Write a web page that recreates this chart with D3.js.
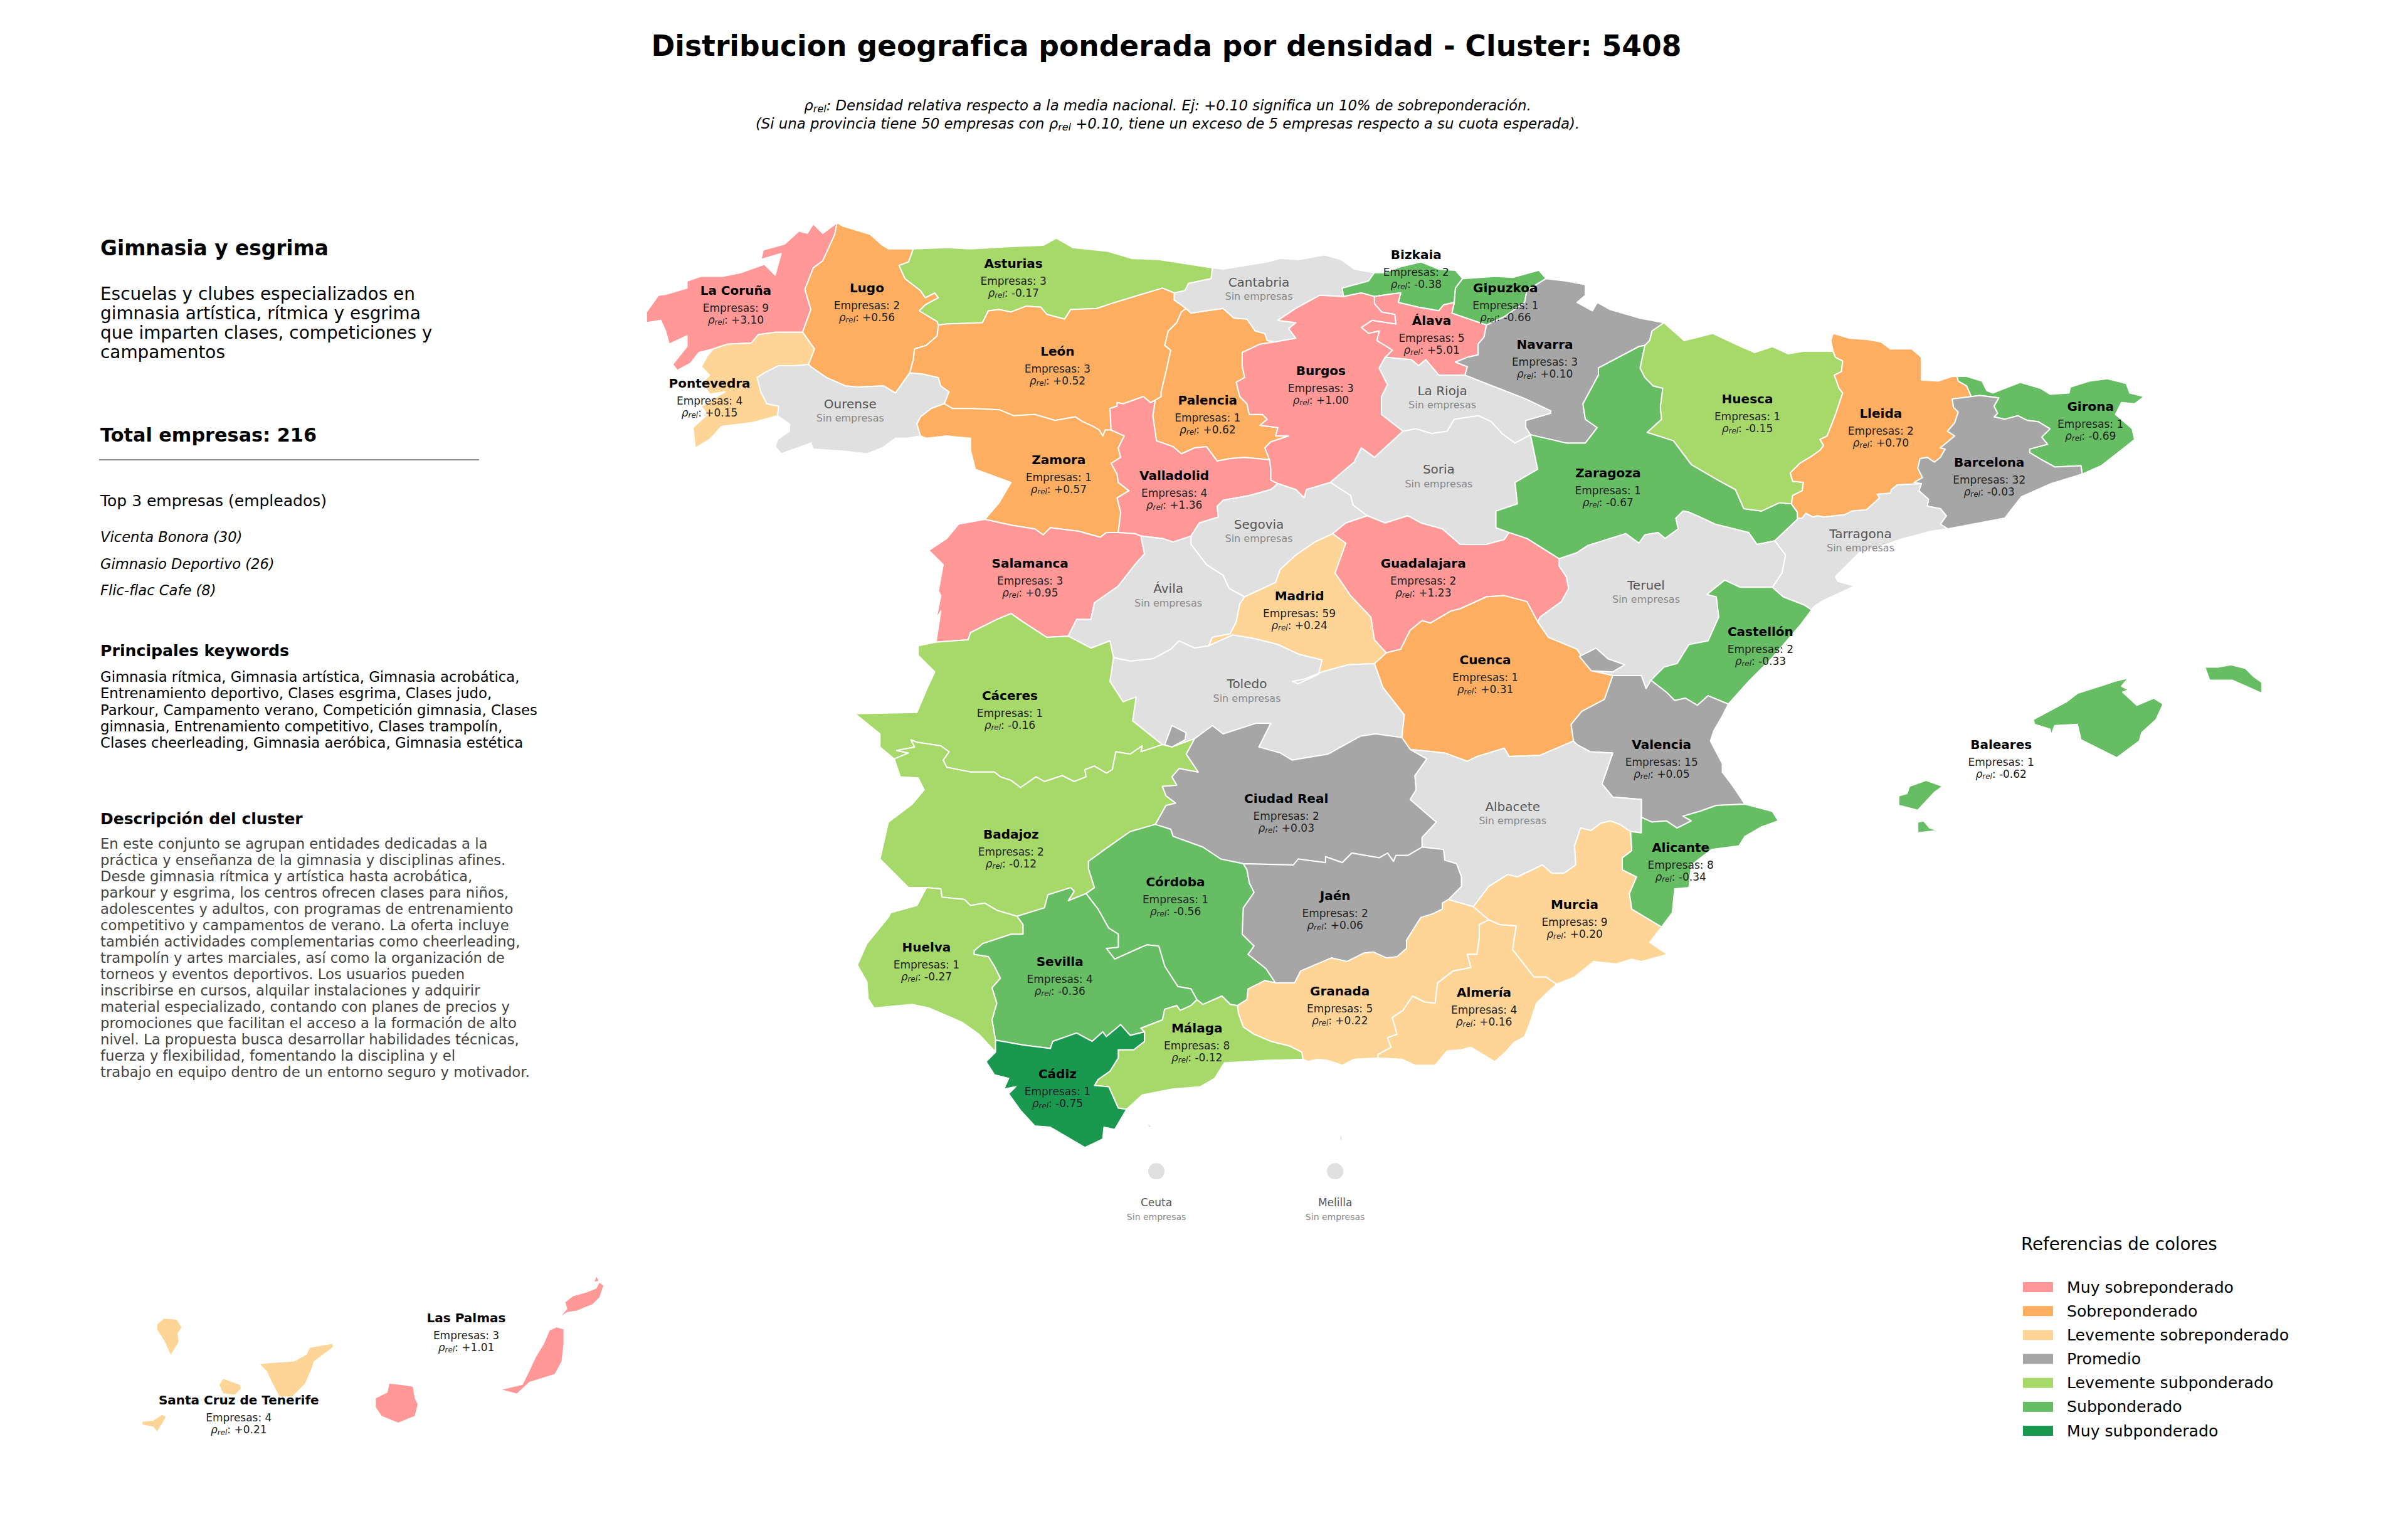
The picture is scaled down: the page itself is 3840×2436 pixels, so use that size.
<!DOCTYPE html>
<html lang="es">
<head>
<meta charset="utf-8">
<script src="https://cdn.jsdelivr.net/npm/d3@7"></script>
<style>
  html, body { margin: 0; background: #fff; }
  text { font-family: "DejaVu Sans", sans-serif; }
</style>
</head>
<body>
<svg id="chart" width="3840" height="2436"></svg>
<script>
const provinceNames = ["La Coruña","Lugo","Asturias","León","Pontevedra","Ourense","Palencia","Zamora","Valladolid","Salamanca","Ávila","Bizkaia","Gipuzkoa","Cantabria","Álava","Navarra","Burgos","La Rioja","Huesca","Lleida","Soria","Zaragoza","Segovia","Tarragona","Guadalajara","Teruel","Madrid","Girona","Barcelona","Cáceres","Toledo","Cuenca","Ciudad Real","Badajoz","Córdoba","Jaén","Huelva","Sevilla","Castellón","Valencia","Albacete","Baleares","Alicante","Murcia","Almería","Granada","Málaga","Cádiz","Las Palmas","Santa Cruz de Tenerife","Ceuta","Melilla"];
const empresas = [9,2,3,3,4,0,1,1,4,3,0,2,1,0,5,3,3,0,1,2,0,1,0,0,2,0,59,1,32,1,0,1,2,2,1,2,1,4,2,15,0,1,8,9,4,5,8,1,3,4,0,0];
const rhoRel = [3.10,0.56,-0.17,0.52,0.15,null,0.62,0.57,1.36,0.95,null,-0.38,-0.66,null,5.01,0.10,1.00,null,-0.15,0.70,null,-0.67,null,null,1.23,null,0.24,-0.69,-0.03,-0.16,null,0.31,0.03,-0.12,-0.56,0.06,-0.27,-0.36,-0.33,0.05,null,-0.62,-0.34,0.20,0.16,0.22,-0.12,-0.75,1.01,0.21,null,null];
// where each label sits, in degrees
const labelLon = [-8.54,-7.44,-6.21,-5.84,-8.76,-7.58,-4.58,-5.83,-4.86,-6.07,-4.91,-2.83,-2.08,-4.15,-2.70,-1.75,-3.63,-2.61,-0.05,1.07,-2.64,-1.22,-4.15,0.90,-2.77,-0.90,-3.81,2.83,1.98,-6.24,-4.25,-2.25,-3.92,-6.23,-4.85,-3.51,-6.94,-5.82,0.06,-0.77,-2.02,2.08,-0.61,-1.50,-2.26,-3.47,-4.67,-5.84,-14.78,-17.12,-5.01,-3.51];
const labelLat = [43.22,43.24,43.45,42.71,42.44,42.27,42.30,41.80,41.67,40.93,40.72,43.52,43.24,43.29,42.97,42.77,42.55,42.38,42.31,42.19,41.72,41.69,41.26,41.18,40.93,40.75,40.66,42.25,41.78,39.82,39.92,40.12,38.96,38.66,38.26,38.14,37.71,37.59,40.36,39.41,38.89,39.41,38.55,38.07,37.33,37.34,37.03,36.65,28.86,28.01,35.57,35.57];

const legendLabels = ["Muy sobreponderado","Sobreponderado","Levemente sobreponderado","Promedio","Levemente subponderado","Subponderado","Muy subponderado"];
const legendColors = ["#ff9896","#fdae61","#fed596","#a6a6a6","#a6d96a","#66bd63","#1a9850"];
const rhoBreaks = [-0.7,-0.3,-0.1,0.105,0.25,0.75];
const noDataColor = "#e0e0e0";

const clusterTitle = "Gimnasia y esgrima";
const clusterLines = ["Escuelas y clubes especializados en","gimnasia artística, rítmica y esgrima","que imparten clases, competiciones y","campamentos"];
const totalEmpresas = 216;
const topEmpresas = ["Vicenta Bonora (30)","Gimnasio Deportivo (26)","Flic-flac Cafe (8)"];
const keywordLines = ["Gimnasia rítmica, Gimnasia artística, Gimnasia acrobática,","Entrenamiento deportivo, Clases esgrima, Clases judo,","Parkour, Campamento verano, Competición gimnasia, Clases","gimnasia, Entrenamiento competitivo, Clases trampolín,","Clases cheerleading, Gimnasia aeróbica, Gimnasia estética"];
const descriptionLines = ["En este conjunto se agrupan entidades dedicadas a la","práctica y enseñanza de la gimnasia y disciplinas afines.","Desde gimnasia rítmica y artística hasta acrobática,","parkour y esgrima, los centros ofrecen clases para niños,","adolescentes y adultos, con programas de entrenamiento","competitivo y campamentos de verano. La oferta incluye","también actividades complementarias como cheerleading,","trampolín y artes marciales, así como la organización de","torneos y eventos deportivos. Los usuarios pueden","inscribirse en cursos, alquilar instalaciones y adquirir","material especializado, contando con planes de precios y","promociones que facilitan el acceso a la formación de alto","nivel. La propuesta busca desarrollar habilidades técnicas,","fuerza y flexibilidad, fomentando la disciplina y el","trabajo en equipo dentro de un entorno seguro y motivador."];

// province boundaries in lon/lat, cut at the junctions so neighbours share them
const arcs = {
  coruna_coast: [[-7.69,43.79],[-7.81,43.70],[-7.89,43.78],[-7.94,43.70],[-8.01,43.72],[-8.13,43.61],[-8.31,43.56],[-8.33,43.48],[-8.16,43.53],[-8.21,43.35],[-8.30,43.44],[-8.50,43.37],[-8.65,43.34],[-8.83,43.34],[-8.95,43.30],[-8.95,43.24],[-9.12,43.19],[-9.19,43.18],[-9.29,43.04],[-9.29,42.95],[-9.17,42.97],[-9.13,42.88],[-9.10,42.77],[-8.95,42.84],[-8.95,42.75],[-9.07,42.60],[-9.03,42.55],[-8.92,42.61],[-8.85,42.70],[-8.73,42.73]],
  coruna_ponte: [[-8.73,42.73],[-8.61,42.77],[-8.41,42.78],[-8.35,42.85],[-8.21,42.87],[-7.98,42.87]],
  coruna_lugo: [[-7.69,43.79],[-7.71,43.69],[-7.76,43.58],[-7.81,43.47],[-7.89,43.41],[-7.96,43.23],[-7.91,43.06],[-7.98,42.87]],
  lugo_coast: [[-7.69,43.79],[-7.64,43.76],[-7.54,43.73],[-7.41,43.69],[-7.31,43.60],[-7.26,43.57],[-7.05,43.57]],
  lugo_ast: [[-7.05,43.57],[-7.09,43.46],[-7.17,43.43],[-7.12,43.32],[-6.99,43.22],[-6.95,43.16],[-6.87,43.20],[-6.84,43.16],[-6.95,43.10],[-7.00,43.05],[-6.85,42.96],[-6.84,42.93]],
  lugo_leon: [[-6.84,42.93],[-6.85,42.84],[-6.94,42.76],[-7.04,42.73],[-7.05,42.64],[-7.08,42.53]],
  lugo_ourense: [[-7.08,42.53],[-7.20,42.36],[-7.30,42.42],[-7.52,42.41],[-7.62,42.42],[-7.78,42.49],[-7.91,42.58],[-7.93,42.60]],
  lugo_ponte: [[-7.98,42.87],[-7.88,42.73],[-7.93,42.60]],
  ponte_ourense: [[-7.93,42.60],[-8.04,42.59],[-8.18,42.59],[-8.30,42.53],[-8.36,42.49],[-8.33,42.37],[-8.28,42.27],[-8.18,42.25],[-8.19,42.17]],
  ponte_pt: [[-8.19,42.17],[-8.41,42.11],[-8.66,42.08],[-8.76,41.97],[-8.88,41.90]],
  ponte_coast: [[-8.88,41.90],[-8.90,42.07],[-8.78,42.18],[-8.83,42.25],[-8.63,42.37],[-8.76,42.35],[-8.82,42.45],[-8.76,42.51],[-8.83,42.58],[-8.78,42.67],[-8.73,42.73]],
  ourense_pt: [[-8.19,42.17],[-8.09,42.10],[-8.09,42.04],[-8.19,41.97],[-8.21,41.91],[-8.16,41.85],[-7.91,41.94],[-7.89,41.89],[-7.61,41.87],[-7.44,41.85],[-7.31,41.90],[-7.20,41.98],[-7.10,41.98],[-6.99,42.00]],
  ourense_leon: [[-7.08,42.53],[-6.97,42.52],[-6.84,42.49],[-6.82,42.42],[-6.75,42.37],[-6.79,42.27]],
  ourense_zamora: [[-6.79,42.27],[-6.90,42.23],[-6.99,42.16],[-7.02,42.10],[-6.99,42.00]],
  ast_coast: [[-7.05,43.57],[-6.77,43.58],[-6.57,43.57],[-6.23,43.59],[-5.96,43.60],[-5.85,43.66],[-5.71,43.58],[-5.42,43.55],[-5.22,43.49],[-4.99,43.48],[-4.54,43.41]],
  ast_cant: [[-4.54,43.41],[-4.55,43.32],[-4.74,43.28],[-4.77,43.22],[-4.86,43.20]],
  ast_leon: [[-6.84,42.93],[-6.77,42.94],[-6.47,42.95],[-6.42,43.05],[-6.33,43.06],[-6.23,43.04],[-6.10,43.09],[-5.98,43.08],[-5.93,43.02],[-5.78,42.98],[-5.73,43.06],[-5.51,43.07],[-5.39,43.11],[-5.16,43.18],[-4.96,43.24],[-4.86,43.20]],
  leon_cant: [[-4.86,43.20],[-4.86,43.14],[-4.76,43.07]],
  leon_pal: [[-5.02,42.30],[-4.97,42.33],[-4.97,42.37],[-4.92,42.58],[-4.89,42.72],[-4.94,42.76],[-4.91,42.88],[-4.84,42.95],[-4.80,43.04],[-4.76,43.07]],
  leon_vall: [[-5.39,42.05],[-5.40,42.23],[-5.34,42.25],[-5.34,42.28],[-5.29,42.27],[-5.12,42.33],[-5.06,42.28],[-5.02,42.30]],
  leon_zam: [[-6.79,42.27],[-6.72,42.23],[-6.57,42.23],[-6.33,42.22],[-6.21,42.17],[-6.03,42.18],[-5.86,42.13],[-5.69,42.16],[-5.63,42.12],[-5.54,42.08],[-5.49,42.05],[-5.46,42.00],[-5.44,42.05],[-5.39,42.05]],
  zam_pt: [[-6.99,42.00],[-6.94,41.98],[-6.77,42.00],[-6.57,41.98],[-6.57,41.88],[-6.53,41.72],[-6.23,41.61],[-6.33,41.44],[-6.45,41.30]],
  zam_sal: [[-6.45,41.30],[-6.22,41.25],[-6.03,41.22],[-5.96,41.17],[-5.90,41.23],[-5.66,41.20],[-5.48,41.15],[-5.43,41.19],[-5.33,41.19]],
  zam_vall: [[-5.39,42.05],[-5.28,42.00],[-5.33,41.90],[-5.31,41.82],[-5.39,41.77],[-5.34,41.68],[-5.33,41.61],[-5.24,41.54],[-5.34,41.48],[-5.31,41.36],[-5.33,41.19]],
  pal_cant: [[-4.76,43.07],[-4.72,43.03],[-4.59,43.05],[-4.45,43.07],[-4.36,42.99],[-4.25,42.98],[-4.18,42.88],[-4.10,42.86],[-4.08,42.80],[-4.01,42.79]],
  pal_bur: [[-4.01,42.79],[-4.14,42.77],[-4.29,42.70],[-4.29,42.59],[-4.27,42.49],[-4.34,42.45],[-4.31,42.33],[-4.25,42.27],[-4.23,42.18],[-4.12,42.18],[-4.08,42.14],[-4.14,42.09],[-3.99,42.07],[-4.01,42.00],[-3.90,42.00],[-4.05,41.95],[-4.10,41.90],[-4.06,41.80]],
  pal_vall: [[-5.02,42.30],[-5.04,42.17],[-5.01,41.96],[-4.87,41.91],[-4.80,41.85],[-4.69,41.90],[-4.59,41.91],[-4.50,41.79],[-4.39,41.81],[-4.27,41.82],[-4.06,41.80]],
  vall_bur: [[-4.06,41.80],[-4.05,41.72],[-4.05,41.63],[-3.99,41.60]],
  vall_seg: [[-3.99,41.60],[-4.05,41.55],[-4.23,41.50],[-4.45,41.46],[-4.50,41.41],[-4.49,41.32],[-4.65,41.27],[-4.72,41.16]],
  vall_av: [[-4.72,41.16],[-4.87,41.11],[-4.96,41.14],[-5.14,41.16]],
  vall_sal: [[-5.14,41.16],[-5.19,41.18],[-5.33,41.19]],
  sal_pt: [[-6.45,41.30],[-6.67,41.26],[-6.77,41.14],[-6.92,41.04],[-6.80,40.92],[-6.84,40.70],[-6.82,40.66],[-6.86,40.46],[-6.82,40.53],[-6.86,40.27]],
  sal_av: [[-5.14,41.16],[-5.11,41.01],[-5.19,40.92],[-5.33,40.74],[-5.53,40.60],[-5.56,40.46],[-5.68,40.46],[-5.75,40.32]],
  sal_cc: [[-5.75,40.32],[-5.93,40.31],[-6.13,40.44],[-6.23,40.51],[-6.35,40.46],[-6.57,40.35],[-6.59,40.29],[-6.72,40.28],[-6.86,40.27]],
  cant_coast: [[-4.54,43.41],[-4.45,43.40],[-4.08,43.46],[-3.97,43.49],[-3.81,43.48],[-3.60,43.52],[-3.46,43.48],[-3.35,43.40],[-3.18,43.37]],
  cant_biz: [[-3.18,43.37],[-3.23,43.30],[-3.45,43.24],[-3.44,43.17]],
  cant_bur: [[-4.01,42.79],[-3.84,42.82],[-3.90,42.90],[-3.84,42.95],[-3.99,42.97],[-3.84,43.07],[-3.64,43.18],[-3.44,43.17]],
  biz_coast: [[-3.18,43.37],[-3.10,43.37],[-2.96,43.42],[-2.79,43.46],[-2.64,43.40],[-2.50,43.39],[-2.44,43.32]],
  biz_gip: [[-2.44,43.32],[-2.50,43.24],[-2.51,43.12]],
  biz_ala: [[-2.51,43.12],[-2.60,43.10],[-2.64,43.05],[-2.81,43.08],[-2.98,43.12],[-2.96,43.20],[-3.05,43.19],[-3.18,43.17]],
  biz_bur: [[-3.44,43.17],[-3.29,43.20],[-3.18,43.17]],
  gip_coast: [[-2.44,43.32],[-2.16,43.34],[-2.02,43.33],[-1.80,43.39],[-1.74,43.32]],
  gip_nav: [[-1.74,43.32],[-1.90,43.22],[-1.92,43.12],[-2.09,43.00],[-2.24,42.93]],
  ala_gip: [[-2.51,43.12],[-2.53,43.03],[-2.24,42.93]],
  ala_nav: [[-2.24,42.93],[-2.26,42.83],[-2.31,42.77],[-2.31,42.68],[-2.40,42.66],[-2.50,42.62],[-2.40,42.58],[-2.42,42.51]],
  ala_rio: [[-3.09,42.66],[-2.87,42.64],[-2.81,42.59],[-2.75,42.64],[-2.64,42.51],[-2.42,42.51]],
  bur_ala: [[-3.18,43.17],[-3.18,43.11],[-3.12,43.04],[-3.01,43.02],[-3.00,42.94],[-3.20,42.97],[-3.29,42.91],[-3.23,42.86],[-3.14,42.88],[-3.16,42.80],[-3.03,42.72],[-3.09,42.66]],
  bur_rio: [[-3.09,42.66],[-3.14,42.57],[-3.07,42.43],[-3.12,42.33],[-3.12,42.18],[-2.94,42.04]],
  bur_so: [[-2.94,42.04],[-3.18,41.82],[-3.29,41.90],[-3.35,41.78],[-3.55,41.61]],
  bur_seg: [[-3.99,41.60],[-3.84,41.55],[-3.77,41.48],[-3.75,41.55],[-3.55,41.61]],
  nav_fr: [[-1.74,43.32],[-1.57,43.30],[-1.41,43.27],[-1.41,43.18],[-1.48,43.12],[-1.35,43.05],[-1.31,43.12],[-1.20,43.06],[-0.96,42.99],[-0.75,42.95]],
  rio_nav: [[-2.42,42.51],[-2.27,42.45],[-2.09,42.38],[-1.91,42.31],[-1.70,42.21],[-1.70,42.19],[-1.91,42.13],[-1.91,42.07],[-1.87,42.01]],
  rio_so: [[-2.94,42.04],[-2.83,42.06],[-2.70,42.02],[-2.57,42.04],[-2.51,42.14],[-2.31,42.17],[-2.20,42.12],[-2.11,42.02],[-2.00,41.94],[-1.87,42.01]],
  nav_zar: [[-1.87,42.01],[-1.57,41.94],[-1.41,41.94],[-1.31,42.07],[-1.41,42.14],[-1.43,42.27],[-1.30,42.51],[-1.30,42.57],[-0.96,42.75],[-0.91,42.76]],
  nav_hu: [[-0.91,42.76],[-0.87,42.80],[-0.85,42.88],[-0.75,42.95]],
  zar_hu: [[-0.91,42.76],[-0.95,42.57],[-0.91,42.49],[-0.84,42.42],[-0.76,42.40],[-0.78,42.24],[-0.77,42.14],[-0.89,42.03],[-0.67,41.96],[-0.52,41.76],[-0.28,41.62],[-0.15,41.55],[-0.08,41.39],[0.07,41.37],[0.22,41.44],[0.32,41.43]],
  hu_fr: [[-0.75,42.95],[-0.58,42.80],[-0.34,42.86],[-0.15,42.77],[0.01,42.70],[0.16,42.75],[0.29,42.69],[0.42,42.71],[0.67,42.71]],
  hu_ll: [[0.32,41.43],[0.33,41.50],[0.41,41.54],[0.42,41.61],[0.33,41.62],[0.31,41.69],[0.39,41.77],[0.49,41.83],[0.56,41.88],[0.59,41.92],[0.56,41.97],[0.62,42.00],[0.69,42.18],[0.75,42.36],[0.72,42.40],[0.68,42.51],[0.74,42.54],[0.75,42.63],[0.69,42.66],[0.67,42.71]],
  ll_fr: [[0.67,42.71],[0.65,42.80],[0.67,42.86],[0.81,42.82],[0.95,42.81],[1.07,42.79],[1.15,42.73],[1.33,42.73],[1.41,42.66],[1.41,42.55],[1.41,42.47],[1.55,42.46],[1.67,42.50],[1.71,42.50]],
  ll_gi: [[1.71,42.50],[1.72,42.46],[1.79,42.42],[1.83,42.33]],
  ll_ba: [[1.83,42.33],[1.67,42.31],[1.68,42.24],[1.72,42.20],[1.69,42.11],[1.63,42.04],[1.69,42.00],[1.57,41.90],[1.61,41.89],[1.57,41.82],[1.52,41.78],[1.46,41.82],[1.40,41.81],[1.38,41.73],[1.42,41.65],[1.35,41.61],[1.41,41.60]],
  ll_ta: [[1.41,41.60],[1.21,41.59],[1.16,41.55],[1.15,41.52],[1.04,41.51],[1.06,41.48],[0.95,41.38],[0.83,41.37],[0.77,41.34],[0.59,41.32],[0.54,41.33],[0.50,41.32],[0.44,41.35],[0.41,41.31],[0.37,41.31]],
  ll_zar: [[0.32,41.43],[0.37,41.36],[0.37,41.31]],
  gi_coast: [[1.71,42.50],[1.79,42.50],[1.92,42.46],[1.96,42.38],[2.01,42.36],[2.11,42.40],[2.24,42.45],[2.41,42.40],[2.49,42.35],[2.65,42.36],[2.66,42.41],[2.82,42.46],[2.97,42.48],[3.13,42.44],[3.16,42.36],[3.28,42.33],[3.20,42.27],[3.09,42.28],[3.04,42.18],[3.18,42.06],[3.20,41.97],[3.10,41.89],[2.92,41.75],[2.76,41.68]],
  ba_gi: [[2.76,41.68],[2.75,41.75],[2.53,41.74],[2.42,41.80],[2.32,41.86],[2.32,41.89],[2.47,41.93],[2.42,41.99],[2.49,42.06],[2.39,42.12],[2.30,42.13],[2.22,42.17],[2.11,42.14],[2.02,42.16],[2.05,42.19],[2.02,42.25],[2.06,42.32],[1.90,42.34],[1.83,42.33]],
  ba_coast: [[1.63,41.22],[2.11,41.31],[2.25,41.49],[2.50,41.60],[2.76,41.68]],
  ta_ba: [[1.63,41.22],[1.57,41.26],[1.62,41.33],[1.57,41.39],[1.46,41.41],[1.47,41.47],[1.39,41.54],[1.41,41.60]],
  ta_coast: [[0.49,40.54],[0.51,40.57],[0.59,40.62],[0.85,40.74],[0.71,40.78],[0.69,40.82],[0.77,40.90],[0.89,41.02],[1.09,41.08],[1.23,41.13],[1.49,41.20],[1.63,41.22]],
  zar_ta: [[0.37,41.31],[0.37,41.30],[0.18,41.12]],
  zar_te: [[0.18,41.12],[0.03,41.09],[-0.04,41.19],[-0.32,41.26],[-0.45,41.32],[-0.54,41.36],[-0.59,41.37],[-0.65,41.31],[-0.63,41.22],[-0.74,41.14],[-0.80,41.19],[-0.91,41.17],[-0.96,41.10],[-1.07,41.18],[-1.20,41.14],[-1.39,41.08],[-1.48,41.02],[-1.63,40.97]],
  zar_gu: [[-1.63,40.97],[-1.90,41.14],[-2.05,41.19]],
  so_zar: [[-2.05,41.19],[-2.16,41.23],[-2.16,41.37],[-1.98,41.43],[-2.00,41.61],[-1.81,41.72],[-1.87,42.01]],
  so_gu: [[-3.24,41.33],[-3.09,41.27],[-2.90,41.33],[-2.79,41.27],[-2.61,41.22],[-2.46,41.09],[-2.24,41.09],[-2.09,41.13],[-2.05,41.19]],
  seg_so: [[-3.55,41.61],[-3.38,41.50],[-3.36,41.42],[-3.24,41.33]],
  seg_gu: [[-3.24,41.33],[-3.42,41.27],[-3.53,41.18]],
  seg_mad: [[-3.53,41.18],[-3.68,41.11],[-3.84,41.00],[-3.97,40.88],[-4.01,40.77],[-4.27,40.65]],
  seg_av: [[-4.72,41.16],[-4.72,41.09],[-4.59,40.92],[-4.45,40.83],[-4.40,40.72],[-4.27,40.65]],
  gu_mad: [[-3.53,41.18],[-3.42,41.10],[-3.51,40.85],[-3.38,40.66],[-3.21,40.48],[-3.18,40.29],[-3.08,40.18]],
  gu_cu: [[-3.08,40.18],[-2.96,40.21],[-2.88,40.37],[-2.78,40.45],[-2.71,40.43],[-2.54,40.53],[-2.46,40.55],[-2.24,40.65],[-2.09,40.66],[-1.90,40.61],[-1.81,40.44]],
  gu_te: [[-1.63,40.97],[-1.63,40.91],[-1.57,40.82],[-1.55,40.72],[-1.61,40.61],[-1.79,40.48],[-1.81,40.44]],
  mad_cu: [[-3.08,40.18],[-3.18,40.09]],
  mad_to: [[-3.18,40.09],[-3.40,40.08],[-3.62,40.02],[-3.77,39.96],[-3.87,39.94],[-3.82,39.92],[-3.65,40.00],[-3.62,40.12],[-3.82,40.17],[-3.99,40.25],[-4.19,40.30],[-4.37,40.33],[-4.57,40.24]],
  mad_av: [[-4.57,40.24],[-4.54,40.31],[-4.39,40.34],[-4.34,40.44],[-4.31,40.59],[-4.27,40.65]],
  av_to: [[-4.57,40.24],[-4.69,40.22],[-4.82,40.28],[-4.89,40.21],[-5.04,40.13],[-5.23,40.11],[-5.37,40.14]],
  av_cc: [[-5.75,40.32],[-5.56,40.22],[-5.40,40.28],[-5.37,40.14]],
  cc_to: [[-5.37,40.14],[-5.40,39.94],[-5.29,39.77],[-5.18,39.81],[-5.21,39.61],[-4.96,39.41]],
  cc_ba: [[-4.96,39.41],[-5.14,39.35],[-5.13,39.40],[-5.23,39.33],[-5.35,39.35],[-5.38,39.20],[-5.43,39.17],[-5.53,39.23],[-5.61,39.20],[-5.60,39.14],[-5.70,39.10],[-5.80,39.15],[-5.95,39.10],[-6.02,39.14],[-6.15,39.05],[-6.23,39.11],[-6.32,39.14],[-6.37,39.18],[-6.57,39.18],[-6.77,39.22],[-6.80,39.28],[-6.75,39.35],[-6.82,39.40],[-7.02,39.43],[-7.07,39.45],[-7.04,39.39],[-7.19,39.36],[-7.09,39.34],[-7.21,39.29]],
  cc_pt: [[-7.21,39.29],[-7.33,39.39],[-7.33,39.50],[-7.54,39.67],[-7.02,39.68],[-6.94,39.87],[-6.87,40.02],[-7.01,40.16],[-7.01,40.24],[-6.86,40.27]],
  to_ba: [[-4.96,39.41],[-4.88,39.39],[-4.69,39.46]],
  to_cr: [[-4.69,39.46],[-4.54,39.57],[-4.45,39.50],[-4.17,39.59],[-4.05,39.59],[-4.15,39.39],[-3.97,39.34],[-3.87,39.28],[-3.57,39.33],[-3.30,39.48],[-3.17,39.50],[-2.95,39.47]],
  to_cu: [[-2.95,39.47],[-2.93,39.66],[-3.11,39.89],[-3.18,40.09]],
  cu_cr: [[-2.95,39.47],[-2.88,39.37]],
  cr_ab: [[-2.88,39.37],[-2.74,39.29],[-2.84,39.15],[-2.83,39.03],[-2.88,38.95],[-2.66,38.76],[-2.78,38.63],[-2.78,38.55]],
  cu_ab: [[-2.88,39.37],[-2.59,39.34],[-2.40,39.27],[-2.32,39.31],[-2.09,39.38],[-2.05,39.31],[-1.79,39.32],[-1.51,39.44]],
  cu_va: [[-1.51,39.44],[-1.53,39.58],[-1.44,39.69],[-1.25,39.79],[-1.18,39.99]],
  cu_te: [[-1.81,40.44],[-1.72,40.31],[-1.48,40.21],[-1.44,40.15],[-1.36,40.03],[-1.18,39.99]],
  te_va: [[-1.18,39.99],[-0.94,39.99],[-0.90,39.88],[-0.86,39.95]],
  cs_te: [[-0.86,39.95],[-0.75,40.06],[-0.64,40.09],[-0.54,40.25],[-0.38,40.28],[-0.29,40.48],[-0.31,40.65],[-0.39,40.67],[-0.24,40.79],[-0.11,40.73],[0.16,40.73]],
  cs_va: [[-0.86,39.95],[-0.73,39.85],[-0.66,39.78],[-0.57,39.80],[-0.47,39.74],[-0.38,39.82],[-0.21,39.75]],
  cs_coast: [[-0.21,39.75],[-0.03,39.95],[0.16,40.14],[0.40,40.42],[0.49,40.54]],
  ta_cs: [[0.16,40.73],[0.25,40.65],[0.43,40.58],[0.49,40.54]],
  ta_te: [[0.18,41.12],[0.27,41.00],[0.24,40.85],[0.16,40.73]],
  va_coast: [[-0.21,39.75],[-0.26,39.65],[-0.33,39.53],[-0.36,39.44],[-0.26,39.25],[-0.26,39.18],[-0.17,39.06],[-0.07,38.91]],
  va_al: [[-0.07,38.91],[-0.31,38.90],[-0.45,38.85],[-0.59,38.81],[-0.52,38.77],[-0.64,38.71],[-0.73,38.77],[-0.85,38.76],[-0.94,38.80]],
  va_ab: [[-0.94,38.80],[-0.94,38.95],[-1.18,38.97],[-1.27,39.08],[-1.18,39.34],[-1.37,39.35],[-1.48,39.41],[-1.51,39.44]],
  al_ab: [[-0.94,38.80],[-0.94,38.67],[-1.03,38.68]],
  al_coast: [[-0.07,38.91],[0.16,38.85],[0.21,38.77],[0.07,38.72],[-0.07,38.64],[-0.12,38.56],[-0.35,38.53],[-0.52,38.40],[-0.54,38.21],[-0.66,38.20],[-0.68,38.00],[-0.77,37.88]],
  al_mu: [[-0.77,37.88],[-1.02,38.03],[-1.04,38.16],[-0.98,38.30],[-1.10,38.36],[-1.10,38.46],[-1.02,38.52],[-1.03,38.68]],
  mu_coast: [[-0.77,37.88],[-0.87,37.75],[-0.72,37.65],[-0.94,37.59],[-1.02,37.61],[-1.15,37.57],[-1.34,37.59],[-1.50,37.46],[-1.65,37.40]],
  mu_ab: [[-1.03,38.68],[-1.12,38.74],[-1.20,38.77],[-1.28,38.75],[-1.36,38.69],[-1.45,38.71],[-1.50,38.56],[-1.49,38.40],[-1.59,38.33],[-1.69,38.33],[-1.77,38.40],[-1.98,38.30],[-2.06,38.32],[-2.22,38.22],[-2.35,38.05]],
  gr_ab: [[-2.35,38.05],[-2.56,38.11]],
  ja_ab: [[-2.56,38.11],[-2.45,38.22],[-2.45,38.30],[-2.49,38.41],[-2.59,38.44],[-2.60,38.53],[-2.78,38.55]],
  ja_cr: [[-2.78,38.55],[-2.90,38.48],[-3.00,38.48],[-3.02,38.43],[-3.07,38.50],[-3.14,38.46],[-3.37,38.50],[-3.45,38.42],[-3.59,38.47],[-3.59,38.42],[-3.82,38.45],[-3.86,38.40],[-4.28,38.41]],
  cr_co: [[-4.28,38.41],[-4.47,38.45],[-4.62,38.55],[-4.87,38.64],[-4.89,38.70],[-5.02,38.74]],
  ba_cr: [[-4.69,39.46],[-4.76,39.33],[-4.66,39.18],[-4.82,39.21],[-4.88,39.14],[-4.84,39.07],[-4.96,39.06],[-4.93,38.98],[-4.85,38.92],[-4.93,38.90],[-5.02,38.74]],
  ba_pt: [[-7.21,39.29],[-7.16,39.14],[-7.01,39.13],[-6.96,39.03],[-7.06,38.91],[-7.26,38.76],[-7.33,38.45],[-7.09,38.21],[-6.94,38.21]],
  ba_hu: [[-6.94,38.21],[-6.82,38.20],[-6.81,38.13],[-6.62,38.11],[-6.57,38.06],[-6.45,38.08],[-6.35,38.02],[-6.18,37.97]],
  ba_se: [[-6.18,37.97],[-5.95,38.04],[-5.92,38.15],[-5.73,38.21],[-5.70,38.18],[-5.75,38.10],[-5.60,38.16]],
  ba_co: [[-5.60,38.16],[-5.53,38.21],[-5.58,38.37],[-5.58,38.43],[-5.43,38.54],[-5.23,38.68],[-5.02,38.74]],
  se_co: [[-5.60,38.16],[-5.50,38.03],[-5.41,37.87],[-5.33,37.82],[-5.33,37.71],[-5.43,37.70],[-5.36,37.61],[-5.16,37.70],[-5.09,37.73],[-4.99,37.72],[-4.94,37.55],[-4.83,37.38],[-4.72,37.36],[-4.67,37.27]],
  co_ma: [[-4.67,37.27],[-4.62,37.23],[-4.46,37.30],[-4.39,37.23],[-4.33,37.22]],
  co_gr: [[-4.33,37.22],[-4.25,37.27],[-4.24,37.36],[-4.10,37.43],[-4.01,37.41]],
  co_ja: [[-4.01,37.41],[-4.09,37.53],[-4.24,37.65],[-4.19,37.72],[-4.29,37.82],[-4.28,38.04],[-4.19,38.17],[-4.23,38.25],[-4.25,38.36],[-4.28,38.41]],
  ja_gr: [[-4.01,37.41],[-3.85,37.41],[-3.80,37.51],[-3.54,37.62],[-3.41,37.59],[-3.27,37.66],[-3.19,37.67],[-3.08,37.62],[-2.99,37.63],[-2.91,37.70],[-2.91,37.77],[-2.79,37.96],[-2.69,37.99],[-2.61,38.03],[-2.61,38.08],[-2.56,38.11]],
  gr_mu: [[-2.35,38.05],[-2.22,37.94]],
  gr_am: [[-2.22,37.94],[-2.30,37.90],[-2.30,37.78],[-2.32,37.65],[-2.40,37.65],[-2.37,37.54],[-2.52,37.51],[-2.65,37.41],[-2.67,37.24],[-2.76,37.25],[-2.86,37.30],[-2.94,37.18],[-3.03,37.12],[-2.99,36.98],[-3.07,36.95],[-3.04,36.87],[-3.15,36.81],[-3.15,36.78]],
  mu_am: [[-2.22,37.94],[-2.13,37.90],[-1.99,37.89],[-2.02,37.69],[-1.84,37.46],[-1.74,37.46],[-1.65,37.40]],
  am_coast: [[-1.65,37.40],[-1.74,37.32],[-1.82,37.24],[-1.88,37.06],[-1.92,36.96],[-2.01,36.91],[-2.08,36.83],[-2.17,36.75],[-2.37,36.87],[-2.45,36.85],[-2.57,36.84],[-2.67,36.72],[-2.84,36.72],[-2.95,36.77],[-3.15,36.78]],
  gr_coast: [[-3.15,36.78],[-3.35,36.77],[-3.45,36.72],[-3.57,36.76],[-3.66,36.77],[-3.74,36.75],[-3.78,36.77]],
  gr_ma: [[-3.78,36.77],[-3.79,36.83],[-3.89,36.88],[-4.05,36.92],[-4.19,36.98],[-4.28,37.04],[-4.32,37.15],[-4.33,37.22]],
  ma_coast: [[-3.78,36.77],[-4.09,36.76],[-4.44,36.74],[-4.52,36.61],[-4.64,36.54],[-4.88,36.52],[-5.13,36.47],[-5.26,36.35]],
  ca_ma: [[-5.26,36.35],[-5.33,36.36],[-5.41,36.54],[-5.53,36.55],[-5.50,36.60],[-5.40,36.67],[-5.33,36.78],[-5.33,36.85],[-5.20,36.85],[-5.11,36.92],[-5.11,37.00]],
  se_ma: [[-5.11,37.00],[-5.14,37.03],[-4.96,37.10],[-4.94,37.19],[-4.84,37.22],[-4.81,37.18],[-4.72,37.22],[-4.67,37.27]],
  ca_se: [[-5.11,37.00],[-5.23,36.97],[-5.31,37.06],[-5.43,36.96],[-5.46,37.00],[-5.55,36.92],[-5.68,36.99],[-5.88,36.92],[-5.90,36.86],[-6.13,36.89],[-6.36,36.93]],
  hu_se: [[-6.18,37.97],[-6.13,37.90],[-6.13,37.82],[-6.23,37.82],[-6.47,37.74],[-6.54,37.68],[-6.54,37.65],[-6.42,37.63],[-6.37,37.55],[-6.32,37.45],[-6.39,37.37],[-6.35,37.24],[-6.39,37.10],[-6.36,36.93]],
  hu_ca: [[-6.36,36.93],[-6.36,36.83]],
  hu_coast: [[-6.36,36.83],[-6.50,36.98],[-6.64,37.08],[-6.92,37.20],[-7.06,37.23],[-7.38,37.20]],
  hu_pt: [[-7.38,37.20],[-7.43,37.28],[-7.44,37.42],[-7.52,37.56],[-7.44,37.74],[-7.26,37.96],[-7.24,38.00],[-7.02,38.06],[-6.94,38.21]],
  ca_coast: [[-6.36,36.83],[-6.44,36.75],[-6.37,36.64],[-6.25,36.61],[-6.29,36.52],[-6.19,36.54],[-6.25,36.48],[-6.15,36.34],[-6.03,36.21],[-5.90,36.20],[-5.61,36.03],[-5.46,36.10],[-5.45,36.20],[-5.36,36.18],[-5.26,36.35]],
};

const provinceArcs = {
  "La Coruña": ["coruna_coast","coruna_ponte","coruna_lugo"],
  "Lugo": ["lugo_coast","lugo_ast","lugo_leon","lugo_ourense","lugo_ponte","coruna_lugo"],
  "Pontevedra": ["ponte_coast","coruna_ponte","lugo_ponte","ponte_ourense","ponte_pt"],
  "Ourense": ["ponte_ourense","ourense_pt","ourense_zamora","ourense_leon","lugo_ourense"],
  "Asturias": ["ast_coast","ast_cant","ast_leon","lugo_ast"],
  "León": ["lugo_leon","ast_leon","leon_cant","leon_pal","leon_vall","leon_zam","ourense_leon"],
  "Zamora": ["leon_zam","ourense_zamora","zam_pt","zam_sal","zam_vall"],
  "Palencia": ["leon_pal","pal_cant","pal_bur","pal_vall"],
  "Valladolid": ["leon_vall","pal_vall","vall_bur","vall_seg","vall_av","vall_sal","zam_vall"],
  "Salamanca": ["zam_sal","vall_sal","sal_av","sal_cc","sal_pt"],
  "Cantabria": ["cant_coast","cant_biz","cant_bur","pal_cant","leon_cant","ast_cant"],
  "Bizkaia": ["biz_coast","biz_gip","biz_ala","biz_bur","cant_biz"],
  "Gipuzkoa": ["gip_coast","gip_nav","ala_gip","biz_gip"],
  "Álava": ["biz_ala","ala_gip","ala_nav","ala_rio","bur_ala"],
  "Burgos": ["cant_bur","biz_bur","bur_ala","bur_rio","bur_so","bur_seg","vall_bur","pal_bur"],
  "Navarra": ["nav_fr","nav_hu","nav_zar","rio_nav","ala_nav","gip_nav"],
  "La Rioja": ["ala_rio","rio_nav","rio_so","bur_rio"],
  "Soria": ["bur_so","rio_so","so_zar","so_gu","seg_so"],
  "Segovia": ["bur_seg","seg_so","seg_gu","seg_mad","seg_av","vall_seg"],
  "Ávila": ["vall_av","seg_av","mad_av","av_to","av_cc","sal_av"],
  "Madrid": ["seg_mad","gu_mad","mad_cu","mad_to","mad_av"],
  "Guadalajara": ["seg_gu","so_gu","zar_gu","gu_te","gu_cu","gu_mad"],
  "Zaragoza": ["nav_zar","zar_hu","ll_zar","zar_ta","zar_te","zar_gu","so_zar"],
  "Huesca": ["nav_hu","hu_fr","hu_ll","zar_hu"],
  "Lleida": ["hu_ll","ll_fr","ll_gi","ll_ba","ll_ta","ll_zar"],
  "Girona": ["gi_coast","ba_gi","ll_gi"],
  "Barcelona": ["ba_coast","ba_gi","ll_ba","ta_ba"],
  "Tarragona": ["ta_coast","ta_ba","ll_ta","zar_ta","ta_te","ta_cs"],
  "Teruel": ["zar_te","ta_te","cs_te","te_va","cu_te","gu_te"],
  "Castellón": ["cs_coast","ta_cs","cs_te","cs_va"],
  "Valencia": ["va_coast","va_al","va_ab","cu_va","te_va","cs_va"],
  "Cuenca": ["mad_cu","gu_cu","cu_te","cu_va","cu_ab","cu_cr","to_cu"],
  "Toledo": ["mad_to","to_cu","to_cr","to_ba","cc_to","av_to"],
  "Ciudad Real": ["to_cr","cu_cr","cr_ab","ja_cr","cr_co","ba_cr"],
  "Albacete": ["cu_ab","va_ab","al_ab","mu_ab","gr_ab","ja_ab","cr_ab"],
  "Cáceres": ["sal_cc","av_cc","cc_to","cc_ba","cc_pt"],
  "Badajoz": ["cc_ba","to_ba","ba_cr","ba_co","ba_se","ba_hu","ba_pt"],
  "Córdoba": ["ba_co","cr_co","co_ja","co_gr","co_ma","se_co"],
  "Jaén": ["ja_cr","ja_ab","ja_gr","co_ja"],
  "Granada": ["ja_gr","gr_ab","gr_mu","gr_am","gr_coast","gr_ma","co_gr"],
  "Almería": ["gr_am","mu_am","am_coast"],
  "Murcia": ["mu_ab","gr_mu","mu_am","mu_coast","al_mu"],
  "Alicante": ["al_coast","va_al","al_ab","al_mu"],
  "Sevilla": ["ba_se","se_co","se_ma","ca_se","hu_se"],
  "Huelva": ["ba_hu","hu_se","hu_ca","hu_coast","hu_pt"],
  "Málaga": ["se_ma","co_ma","gr_ma","ma_coast","ca_ma"],
  "Cádiz": ["ca_se","ca_ma","ca_coast","hu_ca"],
};

// pieces that are not part of the stitched ring
const extraRings = {
  "Valencia": [[[-1.46,40.15],[-1.32,40.22],[-1.22,40.13],[-1.08,40.08],[-1.18,40.02],[-1.36,40.03]]],
  "Ciudad Real": [[[-4.88,39.57],[-4.76,39.51],[-4.77,39.45],[-4.88,39.39],[-4.94,39.41]]],
  "Baleares": [
    [[3.15,39.97],[3.03,39.94],[2.94,39.91],[2.72,39.84],[2.63,39.77],[2.35,39.62],[2.36,39.58],[2.49,39.54],[2.50,39.49],[2.53,39.57],[2.72,39.58],[2.75,39.45],[3.05,39.30],[3.24,39.44],[3.26,39.51],[3.38,39.62],[3.44,39.75],[3.36,39.80],[3.22,39.74],[3.10,39.85],[3.15,39.87],[3.09,39.90]],
    [[3.79,40.06],[3.83,39.95],[4.02,39.95],[4.27,39.84],[4.27,39.93],[4.20,39.98],[4.13,40.05],[4.01,40.08],[3.90,40.06]],
    [[1.59,39.06],[1.45,39.11],[1.31,39.06],[1.29,39.00],[1.22,38.98],[1.22,38.90],[1.38,38.86],[1.52,39.01]],
    [[1.38,38.76],[1.43,38.77],[1.48,38.71],[1.55,38.69],[1.38,38.67]],
  ],
  "Ceuta": [[[-5.10,36.24],[-5.05,36.21],[-5.07,36.19]]],
  "Melilla": [[[-3.47,36.13],[-3.45,36.13],[-3.45,36.09],[-3.47,36.09]]],
};
const canaryRings = {
  "Santa Cruz de Tenerife": [
    [[-17.96,28.79],[-17.89,28.85],[-17.76,28.84],[-17.71,28.76],[-17.75,28.70],[-17.74,28.61],[-17.82,28.48],[-17.89,28.63],[-17.96,28.74]],
    [[-17.32,28.17],[-17.28,28.23],[-17.11,28.17],[-17.10,28.13],[-17.16,28.07],[-17.28,28.08]],
    [[-16.90,28.38],[-16.83,28.39],[-16.55,28.41],[-16.42,28.48],[-16.39,28.55],[-16.16,28.59],[-16.15,28.56],[-16.35,28.41],[-16.37,28.34],[-16.44,28.18],[-16.57,28.05],[-16.70,28.05],[-16.78,28.20],[-16.83,28.31]],
    [[-17.91,27.86],[-17.87,27.84],[-17.96,27.69],[-18.00,27.74],[-18.11,27.76],[-18.11,27.79],[-18.00,27.80]],
  ],
  "Las Palmas": [
    [[-15.71,28.03],[-15.59,28.09],[-15.57,28.18],[-15.46,28.17],[-15.33,28.15],[-15.31,28.03],[-15.28,27.97],[-15.31,27.85],[-15.48,27.78],[-15.65,27.85],[-15.71,27.94]],
    [[-13.92,28.73],[-13.85,28.76],[-13.78,28.74],[-13.78,28.59],[-13.80,28.41],[-13.87,28.28],[-14.13,28.20],[-14.26,28.08],[-14.41,28.12],[-14.20,28.17],[-14.13,28.31],[-14.06,28.46],[-13.98,28.59]],
    [[-13.80,28.88],[-13.74,28.95],[-13.76,29.02],[-13.68,29.08],[-13.54,29.12],[-13.44,29.16],[-13.41,29.22],[-13.37,29.19],[-13.41,29.07],[-13.48,29.00],[-13.65,28.93],[-13.74,28.92]],
    [[-13.46,29.23],[-13.44,29.28],[-13.42,29.24]],
  ],
};
const circleProvinces = { "Ceuta": [-5.01,35.83], "Melilla": [-3.51,35.83] };

const fmtRho = (v) => d3.format("+.2f")(v).replace("\u2212", "-");

const svg = d3.select("#chart");

// the data sits in plain lon/lat, the Canaries on their own inset scale
const mainProjection = d3.geoIdentity().reflectY(true).scale(190).translate([2796, 8675]);
const canaryProjection = d3.geoIdentity().reflectY(true).scale(155).translate([3034.4, 6574]);
const mainPath = d3.geoPath(mainProjection);
const canaryPath = d3.geoPath(canaryProjection);

const colorScale = d3.scaleThreshold().domain(rhoBreaks).range(legendColors.slice().reverse());
const fillFor = (name) => {
  const r = rhoRel[provinceNames.indexOf(name)];
  return r === null ? noDataColor : colorScale(r);
};

function stitch(names) {
  const left = names.map((n) => arcs[n]);
  let ring = left.shift().slice();
  while (left.length) {
    const end = ring[ring.length - 1];
    const dist = (p) => Math.hypot(p[0] - end[0], p[1] - end[1]);
    let best = 0, bestD = Infinity, flip = false;
    left.forEach((a, i) => {
      if (dist(a[0]) < bestD) { bestD = dist(a[0]); best = i; flip = false; }
      if (dist(a[a.length - 1]) < bestD) { bestD = dist(a[a.length - 1]); best = i; flip = true; }
    });
    const next = left.splice(best, 1)[0].slice();
    if (flip) next.reverse();
    ring = ring.concat(next.slice(1));
  }
  return ring;
}

const closeRing = (r) => r.concat([r[0]]);
const mainFeatures = [];
Object.keys(provinceArcs).forEach((name) => {
  mainFeatures.push({ type: "Feature", properties: { name }, geometry: { type: "Polygon", coordinates: [closeRing(stitch(provinceArcs[name]))] } });
});
Object.keys(extraRings).forEach((name) => {
  mainFeatures.push({ type: "Feature", properties: { name }, geometry: { type: "MultiPolygon", coordinates: extraRings[name].map((r) => [closeRing(r)]) } });
});
const canaryFeatures = Object.keys(canaryRings).map((name) => ({
  type: "Feature", properties: { name },
  geometry: { type: "MultiPolygon", coordinates: canaryRings[name].map((r) => [closeRing(r)]) },
}));

const mapG = svg.append("g");
mapG.selectAll("path.main").data(mainFeatures).enter().append("path")
  .attr("class", "main")
  .attr("d", mainPath)
  .attr("fill", (d) => fillFor(d.properties.name))
  .attr("stroke", "#fff").attr("stroke-width", 2).attr("stroke-linejoin", "round");
mapG.selectAll("path.canary").data(canaryFeatures).enter().append("path")
  .attr("class", "canary")
  .attr("d", canaryPath)
  .attr("fill", (d) => fillFor(d.properties.name));
mapG.selectAll("ellipse").data(Object.keys(circleProvinces)).enter().append("ellipse")
  .attr("cx", (d) => mainProjection(circleProvinces[d])[0])
  .attr("cy", (d) => mainProjection(circleProvinces[d])[1])
  .attr("rx", 13).attr("ry", 13)
  .attr("fill", noDataColor);

function addText(x, y, str, size, opts) {
  const o = opts || {};
  return svg.append("text")
    .attr("x", x).attr("y", y)
    .attr("dominant-baseline", "central")
    .attr("text-anchor", o.anchor || "start")
    .attr("font-size", size)
    .attr("font-weight", o.weight || "normal")
    .attr("font-style", o.style || "normal")
    .attr("fill", o.fill || "#000")
    .text(str);
}

// the rho + subscript "rel" run, then whatever follows it
function addRho(t, size, rest) {
  const drop = size * 0.24;
  t.append("tspan").attr("font-style", "italic").text("\u03c1");
  t.append("tspan").attr("font-style", "italic").attr("font-size", size * 0.7).attr("dy", drop).text("rel");
  t.append("tspan").attr("dy", -drop).text(rest);
}

provinceNames.forEach((name, i) => {
  const isCanary = name === "Las Palmas" || name === "Santa Cruz de Tenerife";
  const isCircle = name === "Ceuta" || name === "Melilla";
  const [x, y] = (isCanary ? canaryProjection : mainProjection)([labelLon[i], labelLat[i]]);
  if (rhoRel[i] === null) {
    addText(x, y, name, isCircle ? 17 : 20, { anchor: "middle", fill: "#555" });
    addText(x, y + 23, "Sin empresas", isCircle ? 14 : 16, { anchor: "middle", fill: "#888" });
  } else {
    addText(x, y, name, 20, { anchor: "middle", weight: "bold" });
    addText(x, y + 28, "Empresas: " + empresas[i], 17, { anchor: "middle", fill: "#222" });
    const t = addText(x, y + 47, "", 17, { anchor: "middle", fill: "#222" });
    addRho(t, 17, ": " + fmtRho(rhoRel[i]));
  }
});

// header
addText(1860, 73, "Distribucion geografica ponderada por densidad - Cluster: 5408", 45.6, { anchor: "middle", weight: "bold" });
const sub1 = addText(1862, 168, "", 22.8, { anchor: "middle", style: "italic" });
addRho(sub1, 22.8, ": Densidad relativa respecto a la media nacional. Ej: +0.10 significa un 10% de sobreponderación.");
const sub2 = addText(1862, 197, "(Si una provincia tiene 50 empresas con ", 22.8, { anchor: "middle", style: "italic" });
addRho(sub2, 22.8, " +0.10, tiene un exceso de 5 empresas respecto a su cuota esperada).");

// left panel
const panelX = 160;
addText(panelX, 396, clusterTitle, 32.8, { weight: "bold" });
clusterLines.forEach((l, i) => addText(panelX, 468 + i * 31.3, l, 27.9));
addText(panelX, 693, "Total empresas: " + totalEmpresas, 30.3, { weight: "bold" });
svg.append("line").attr("x1", 158).attr("x2", 764).attr("y1", 733).attr("y2", 733).attr("stroke", "#888").attr("stroke-width", 2);
addText(panelX, 798, "Top 3 empresas (empleados)", 25);
topEmpresas.forEach((l, i) => addText(panelX, 856 + i * 42.5, l, 22.6, { style: "italic" }));
addText(panelX, 1037, "Principales keywords", 25.2, { weight: "bold" });
keywordLines.forEach((l, i) => addText(panelX, 1079 + i * 26.3, l, 22.75));
addText(panelX, 1305, "Descripción del cluster", 25, { weight: "bold" });
descriptionLines.forEach((l, i) => addText(panelX, 1345 + i * 26, l, 22.75, { fill: "#444" }));

// legend
addText(3223, 1983, "Referencias de colores", 27.7);
const legendY = d3.scalePoint().domain(legendLabels).range([2052, 2281]);
svg.selectAll("rect.swatch").data(legendLabels).enter().append("rect")
  .attr("class", "swatch")
  .attr("x", 3226).attr("width", 48)
  .attr("y", (d) => legendY(d) - 8).attr("height", 16)
  .attr("fill", (d, i) => legendColors[i]);
legendLabels.forEach((l) => addText(3296, legendY(l), l, 25.15));
</script>
</body>
</html>
